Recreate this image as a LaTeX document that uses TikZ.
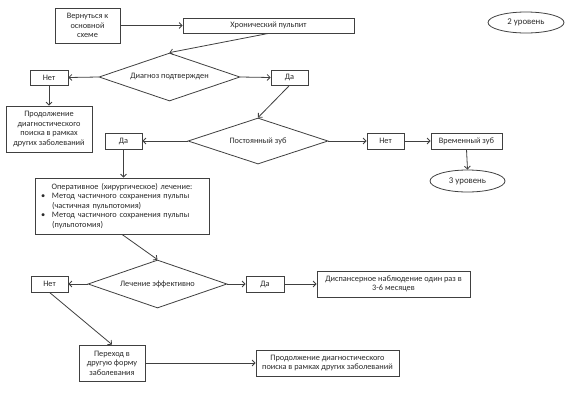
\documentclass[tikz,border=0pt]{standalone}
\usepackage{fontspec}
\setmainfont{Carlito}
\usetikzlibrary{shapes.geometric,arrows.meta}
\definecolor{ln}{HTML}{404040}
\definecolor{tx}{HTML}{2a2a2a}
\begin{document}
\begin{tikzpicture}[x=1pt,y=-1pt,
  every node/.style={font=\fontsize{8.3}{9.6}\selectfont, text=tx},
  box/.style={draw=ln, line width=0.8pt, rectangle, inner sep=1pt, align=center},
  dia/.style={draw=ln, line width=0.8pt, diamond, inner sep=0pt},
  oval/.style={draw=ln, line width=0.8pt, ellipse, inner sep=0pt, font=\fontsize{8.8}{10}\selectfont},
  arr/.style={draw=ln, line width=0.8pt, -{Straight Barb[length=3pt,width=6pt]}}]
\useasboundingbox (0,0) rectangle (588,405);
\fill[white] (0,0) rectangle (588,405);

\node[box, minimum width=65, minimum height=35] (back) at (87.5,25.5) {Вернуться  к\\основной\\схеме};
\node[box, minimum width=171, minimum height=15] (chron) at (268.5,25.5) {Хронический пульпит};
\node[oval, minimum width=76, minimum height=21] (lvl2) at (526,22.5) {2 уровень};

\node[dia, aspect=2.94, minimum width=141, minimum height=48] (d1) at (169.5,77) {Диагноз подтвержден};
\node[box, minimum width=38, minimum height=15] (no1) at (49,77.5) {Нет};
\node[box, minimum width=37, minimum height=15] (yes1) at (289.5,77.5) {Да};
\node[box, minimum width=86, minimum height=46] (cont1) at (49,129) {Продолжение\\диагностического\\поиска в рамках\\других заболеваний};

\node[dia, aspect=3.04, minimum width=140, minimum height=46] (d2) at (258,141) {Постоянный зуб};
\node[box, minimum width=37, minimum height=16] (yes2) at (123.5,141) {Да};
\node[box, minimum width=37, minimum height=16] (no2) at (385.5,141) {Нет};
\node[box, minimum width=71, minimum height=16] (temp) at (466.5,141) {Временный зуб};
\node[oval, minimum width=75, minimum height=22] (lvl3) at (467.5,181) {3 уровень};

\node[box, minimum width=174, minimum height=56, text width=166, align=left] (op) at (122,206) {%
{\centering Оперативное (хирургическое)  лечение:\par}%
\raggedright
\hangindent=13pt\hangafter=1\noindent\makebox[13pt][l]{\hspace{2pt}•}Метод  частичного сохранения пульпы\newline (частичная пульпотомия)\par
\hangindent=13pt\hangafter=1\noindent\makebox[13pt][l]{\hspace{2pt}•}Метод  частичного сохранения пульпы\newline (пульпотомия)\par};

\node[dia, aspect=2.9, minimum width=139, minimum height=48] (d3) at (157.5,284) {Лечение  эффективно};
\node[box, minimum width=37, minimum height=16] (no3) at (49.5,284) {Нет};
\node[box, minimum width=38, minimum height=16] (yes3) at (265,284) {Да};
\node[box, minimum width=153, minimum height=26] (disp) at (393.5,284) {Диспансерное наблюдение  один раз в\\3-6 месяцев};
\node[box, minimum width=66, minimum height=36] (trans) at (112,363) {Переход  в\\другую форму\\заболевания};
\node[box, minimum width=143, minimum height=26] (cont2) at (327.5,363) {Продолжение  диагностического\\поиска в рамках других заболеваний};

\draw[arr] (back.east) -- (chron.west);
\draw[arr] (chron.south) -- (d1.north);
\draw[arr] (d1.west) -- (no1.east);
\draw[arr] (d1.east) -- (yes1.west);
\draw[arr] (no1.south) -- (cont1.north);
\draw[arr] (yes1.south) -- (d2.north);
\draw[arr] (d2.west) -- (yes2.east);
\draw[arr] (d2.east) -- (no2.west);
\draw[arr] (no2.east) -- (temp.west);
\draw[arr] (temp.south) -- (lvl3.north);
\draw[arr] (yes2.south) -- (yes2.south |- op.north);
\draw[arr] (op.south) -- (d3.north);
\draw[arr] (d3.west) -- (no3.east);
\draw[arr] (d3.east) -- (yes3.west);
\draw[arr] (yes3.east) -- (disp.west);
\draw[arr] (no3.south) -- (trans.north);
\draw[arr] (trans.east) -- (cont2.west);
\end{tikzpicture}
\end{document}
